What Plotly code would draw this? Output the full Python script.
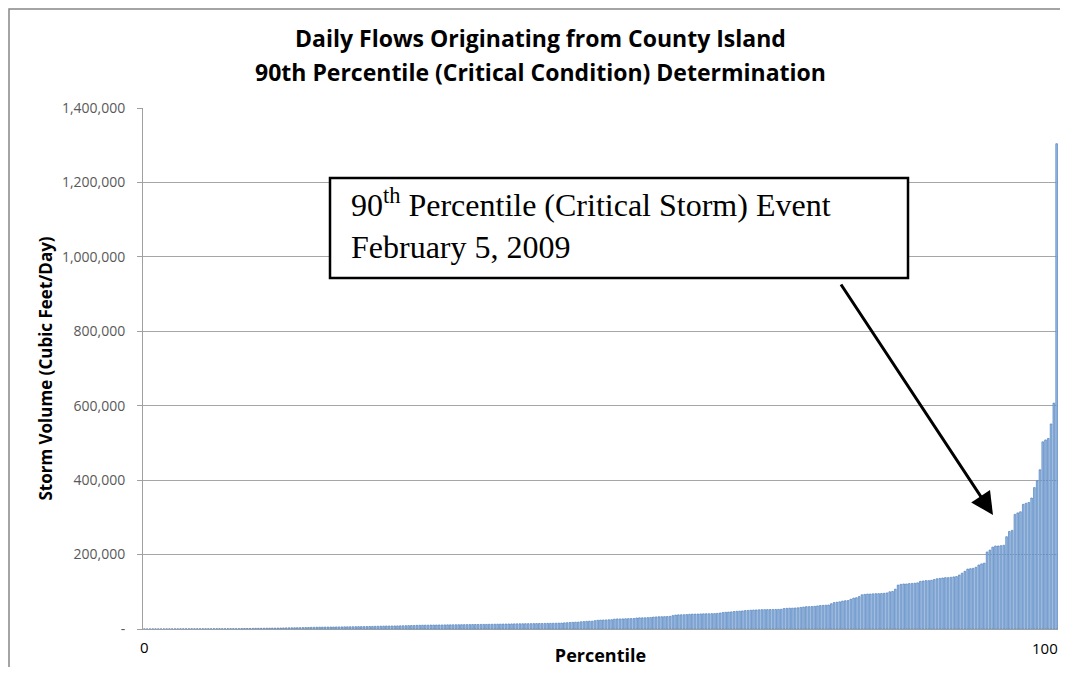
import plotly.graph_objects as go

# storm volumes (cubic feet/day), sorted ascending, one bar per storm day
tiny_days = [100, 120, 150, 180, 200, 220, 250, 280, 300, 320, 350, 380, 400, 420, 450,
             480, 500, 520, 550, 580, 600, 620, 650, 680, 700, 720, 750, 780, 800, 820,
             850, 880, 900, 930, 960]
small_days = [1200, 1300, 1400, 1500, 1600, 1700, 1800, 1900, 2000, 2100, 2200, 2300, 2400,
              2500, 2700, 2800, 3000, 3100, 3200, 3300, 3500, 3600, 3700, 3900, 4000,
              4500, 4600, 4800, 4900, 5000, 5100, 5200, 5300, 5400, 5500, 5600, 5700, 5800,
              5900, 6000, 6100, 6200, 6300, 6400, 6500, 6600, 6800,
              7000, 7200, 7400, 7600, 7800, 8000, 8000, 8100, 8200, 8300, 8500, 8700, 8900,
              9100, 9300, 9500, 9800, 10000]
mid_days = [10200, 10300, 10400, 10500, 10600, 10700, 10800, 10900, 11000, 11100, 11200,
            11300, 11400, 11500, 11600, 11700, 11800, 11900, 12000, 12100, 12200, 12300,
            12400, 12500, 12600,
            12800, 12900, 13000, 13100, 13300, 13400, 13500, 13600, 13800, 13900, 14000,
            14100, 14200, 14300, 14400, 14500, 14600, 14700, 14800, 15000, 15100, 15200,
            15400, 15600, 15800,
            16000, 16500, 17000, 17500, 18000, 18200, 18500, 19500, 20000, 20500, 21000,
            21000, 22500, 23500,
            24000, 24200, 24500, 24800, 25000, 26500, 27000, 27000, 27200, 27500, 27800,
            28000, 28200, 29500, 30000, 30000, 30200, 30500,
            31000, 32000, 32500, 33000, 33000, 33200, 33500, 34000, 36000, 37500, 38000,
            38200, 38500, 39000, 39500, 40000, 40000, 40200]
upper_days = [40500, 40800, 41000, 41000, 41200, 41500, 42000, 43000, 44500, 45000, 45500,
              46000, 47000, 47500, 48000, 48500, 49500, 50000, 50500, 51000, 51200, 51500,
              52000, 52000, 52200, 52300, 52500, 52600, 52800, 53000, 55000, 55500, 56000,
              56000, 56500, 57000, 58000, 59000, 60000, 60000, 60500, 61000, 62000, 63000,
              63500, 64000, 64500,
              68000, 71000, 72000, 73000, 75000, 76000, 76500, 80000, 83000, 84000, 87000,
              92000, 93000, 94000, 94000, 94500, 95000, 95000, 95500, 96000, 97000, 100000,
              101000, 107000]
high_days = [118000, 120000, 121000, 121000, 122000, 122500, 123000, 124000,
             128000, 129000, 130000, 130000, 131000, 133000, 135000, 136000, 137000, 138000,
             138000, 139000, 140000, 141000, 145000,
             150000, 155000, 161000, 162000, 163000, 166000, 172000, 175000, 177000,
             207000, 212000, 220000, 223000, 223000, 224000, 225000,
             248000, 262000, 265000, 308000, 312000, 315000, 335000, 338000, 340000, 352000,
             380000, 398000, 428000, 503000, 508000, 512000, 551000, 607000, 1304000]

volumes = tiny_days + small_days + mid_days + upper_days + high_days
n = len(volumes)
percentiles = [i / (n - 1) * 100 for i in range(n)]

y_ticks = [0, 200000, 400000, 600000, 800000, 1000000, 1200000, 1400000]
y_labels = ["-", "200,000", "400,000", "600,000", "800,000", "1,000,000", "1,200,000", "1,400,000"]

# page has an 8px body margin all round; keep the figure inside the window
OFF = 8
FIG_W, FIG_H = 1068 - 2 * OFF, 675 - 2 * OFF
L, T, R, B = 143, 108, 1058, 629   # plot area in page pixels
PW, PH = R - L, B - T


def px(x):
    return (x - L) / PW


def py(y):
    return (B - y) / PH


fig = go.Figure()

fig.add_trace(go.Bar(
    x=percentiles,
    y=volumes,
    marker=dict(color='#9DBBE3', line=dict(color='#4F81BD', width=0.7)),
    showlegend=False
))

# chart area frame (runs off the page on the right and bottom)
fig.add_shape(type='rect', xref='paper', yref='paper',
              x0=px(9), x1=px(1075), y0=py(690), y1=py(9),
              line=dict(color='#868686', width=1.5), layer='below')

# callout box
fig.add_shape(type='rect', xref='paper', yref='paper',
              x0=px(330), x1=px(908), y0=py(278), y1=py(178),
              line=dict(color='black', width=2.5), fillcolor='white', layer='above')

fig.update_layout(
    width=FIG_W,
    height=FIG_H,
    margin=dict(l=L - OFF, r=FIG_W - (R - OFF), t=T - OFF, b=FIG_H - (B - OFF)),
    plot_bgcolor='white',
    paper_bgcolor='white',
    bargap=0.4,
    font=dict(family='Open Sans', color='#595959'),
    xaxis=dict(
        range=[-0.15, 100.15],
        tickvals=[0],
        ticktext=['0'],
        tickfont=dict(size=15, color='#000000'),
        ticklabelstandoff=5,
        automargin=False,
        showgrid=False,
        showline=True,
        linecolor='#A0A0A0',
        linewidth=1,
        ticks='',
        title=dict(text='<b>Percentile</b>', font=dict(size=18, color='#000000'), standoff=0),
    ),
    yaxis=dict(
        range=[0, 1400000],
        tickvals=y_ticks,
        ticktext=y_labels,
        tickfont=dict(size=14, color='#595959'),
        ticklabelstandoff=9,
        automargin=False,
        showgrid=True,
        gridcolor='#A6A6A6',
        gridwidth=1,
        showline=True,
        linecolor='#A0A0A0',
        ticks='outside',
        ticklen=5,
        tickcolor='#A0A0A0',
        title=dict(text='<b>Storm Volume (Cubic Feet/Day)</b>', font=dict(size=17, color='#000000'),
                   standoff=4),
    ),
    annotations=[
        dict(text='<b>Daily Flows Originating from County Island</b>',
             xref='paper', yref='paper', x=px(540), y=py(38),
             showarrow=False, font=dict(size=23, color='#000000'), xanchor='center', yanchor='middle'),
        dict(text='<b>90th Percentile (Critical Condition) Determination</b>',
             xref='paper', yref='paper', x=px(540), y=py(72),
             showarrow=False, font=dict(size=23, color='#000000'), xanchor='center', yanchor='middle'),
        # right-hand category label, pulled in so it stays on the page
        dict(text='100', xref='paper', yref='paper', x=px(1060), y=py(648),
             showarrow=False, font=dict(size=15, color='#000000'), xanchor='right', yanchor='middle'),
        dict(text='90<sup>th</sup> Percentile (Critical Storm) Event<br>February 5, 2009',
             xref='paper', yref='paper', x=px(349), y=py(224),
             showarrow=False, align='left', xanchor='left', yanchor='middle',
             font=dict(family='Liberation Serif', size=32, color='#000000')),
        dict(text=' ', xref='paper', yref='paper',
             x=px(993), y=py(515),
             ax=-155, ay=-235, axref='pixel', ayref='pixel',
             showarrow=True, arrowhead=2, arrowsize=1.5, arrowwidth=3, arrowcolor='black'),
    ],
)

fig.write_html("out.html")
